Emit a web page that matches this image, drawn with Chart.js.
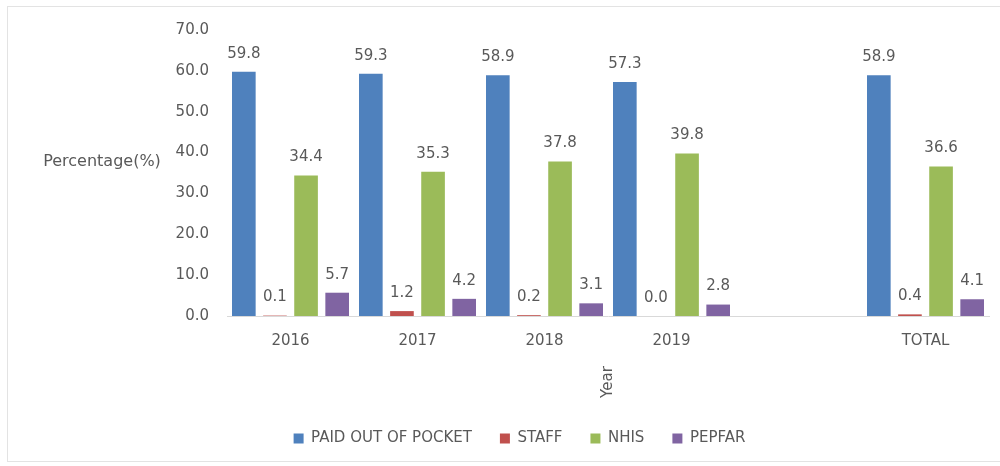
<!DOCTYPE html>
<html>
<head>
<meta charset="utf-8">
<script src="https://cdn.jsdelivr.net/npm/chart.js@4.4.0/dist/chart.umd.min.js"></script>
<style>
  html, body { margin: 0; padding: 0; background: #fff; }
  #wrap { position: relative; width: 1000px; height: 466px; }
  #frame { position: absolute; left: 7px; top: 6px; width: 1000px; height: 456px; border: 1px solid #e3e3e3; box-sizing: border-box; }
  canvas { position: absolute; left: 0; top: 0; }
</style>
</head>
<body>
<div id="wrap">
  <div id="frame"></div>
  <canvas id="statusChart" width="1000" height="466"></canvas>
</div>
<script>
const years = ['2016', '2017', '2018', '2019', '', 'TOTAL'];
const paidOutOfPocket = [59.8, 59.3, 58.9, 57.3, null, 58.9];
const staff = [0.1, 1.2, 0.2, 0.0, null, 0.4];
const nhis = [34.4, 35.3, 37.8, 39.8, null, 36.6];
const pepfar = [5.7, 4.2, 3.1, 2.8, null, 4.1];

const textColor = '#595959';
const fontFamily = '"DejaVu Sans", sans-serif';

// value labels over each bar + the two axis titles placed like in Excel
const labelsPlugin = {
    id: 'labels',
    afterLayout(chart) {
        // legend sits a bit right of the canvas centre in the original
        chart.legend.left += 25;
        chart.legend.right += 25;
    },
    afterDatasetsDraw(chart) {
        const ctx = chart.ctx;
        ctx.save();
        ctx.fillStyle = textColor;
        ctx.font = '15px ' + fontFamily;
        ctx.textAlign = 'center';
        ctx.textBaseline = 'middle';
        chart.data.datasets.forEach((ds, i) => {
            chart.getDatasetMeta(i).data.forEach((bar, j) => {
                if (ds.data[j] === null) return;
                ctx.fillText(ds.data[j].toFixed(1), bar.x, bar.y - 18);
            });
        });

        const area = chart.chartArea;
        ctx.font = '16px ' + fontFamily;
        ctx.fillText('Percentage(%)', 102, 162);
        ctx.font = '15px ' + fontFamily;
        ctx.translate((area.left + area.right) / 2, 382);
        ctx.rotate(-Math.PI / 2);
        ctx.fillText('Year', 0, 0);
        ctx.restore();
    }
};

const chartData = {
    labels: years,
    datasets: [
        { label: 'PAID OUT OF POCKET', data: paidOutOfPocket, backgroundColor: '#4F81BD' },
        { label: 'STAFF', data: staff, backgroundColor: '#C0504D' },
        { label: 'NHIS', data: nhis, backgroundColor: '#9BBB59' },
        { label: 'PEPFAR', data: pepfar, backgroundColor: '#8064A2' }
    ]
};

const config = {
    type: 'bar',
    data: chartData,
    options: {
        responsive: false,
        animation: false,
        datasets: {
            bar: { barPercentage: 0.76, categoryPercentage: 0.98 }
        },
        layout: {
            padding: { top: 30, right: 11, bottom: 10, left: 0 }
        },
        scales: {
            x: {
                grid: { display: false, drawTicks: false },
                border: { display: true, color: '#d9d9d9', width: 1 },
                ticks: { color: textColor, font: { family: fontFamily, size: 15 }, padding: 16, maxRotation: 0 },
                afterFit(s) { s.height = 87; }
            },
            y: {
                min: 0,
                max: 70,
                grid: { display: false, drawTicks: false },
                border: { display: false },
                ticks: {
                    stepSize: 10,
                    color: textColor,
                    font: { family: fontFamily, size: 15 },
                    padding: 18,
                    callback: v => v.toFixed(1)
                },
                afterFit(s) { s.width = 227; }
            }
        },
        plugins: {
            legend: {
                position: 'bottom',
                labels: {
                    boxWidth: 10,
                    boxHeight: 10,
                    padding: 28,
                    color: textColor,
                    font: { family: fontFamily, size: 15 }
                }
            },
            tooltip: { enabled: false }
        }
    },
    plugins: [labelsPlugin]
};

new Chart(document.getElementById('statusChart').getContext('2d'), config);
</script>
</body>
</html>
